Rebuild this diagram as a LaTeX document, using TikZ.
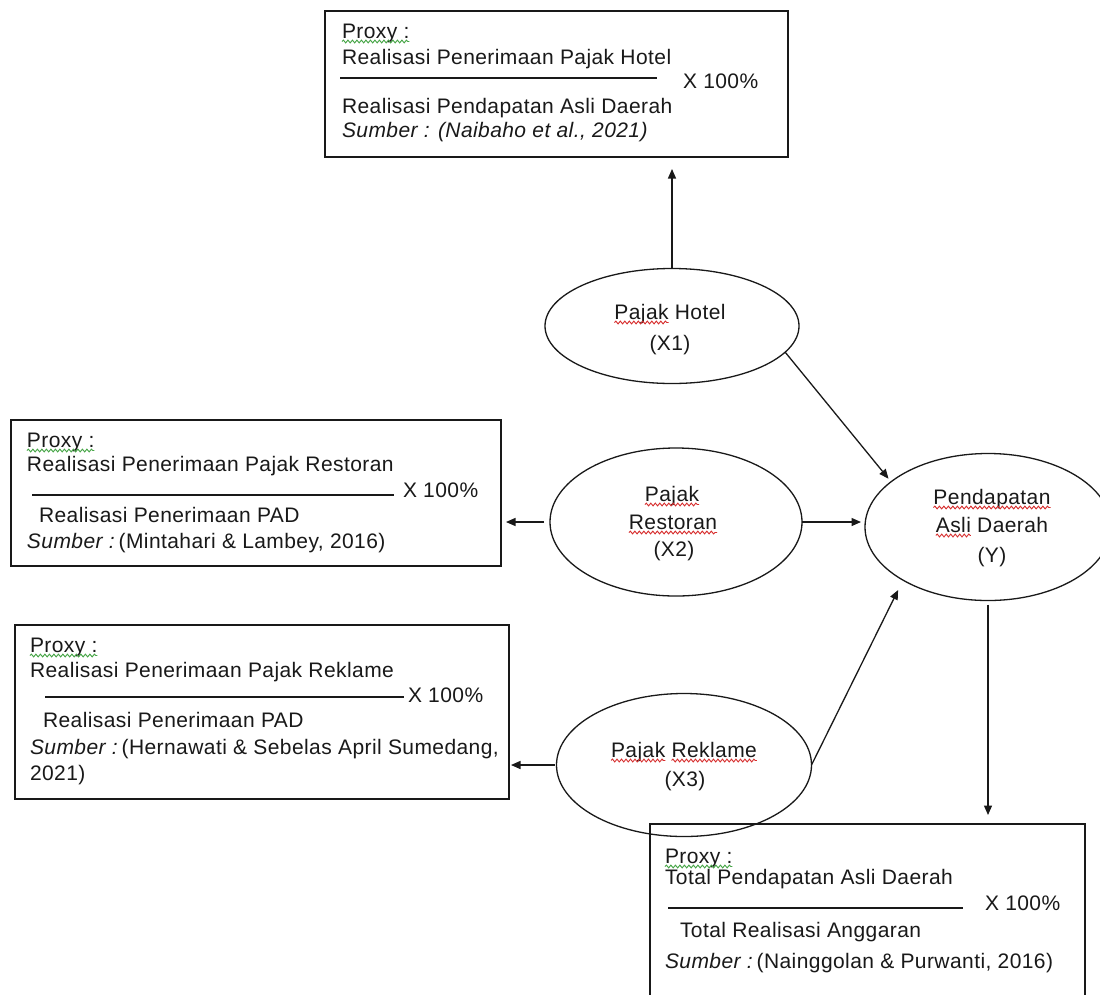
\documentclass[tikz,border=0pt]{standalone}
\usepackage{fontspec}
\setmainfont[LetterSpace=2]{Liberation Sans}
\usepackage{xcolor}
\usetikzlibrary{arrows.meta,shapes.geometric,decorations.pathmorphing}
\definecolor{sqred}{RGB}{215,45,45}
\definecolor{sqgreen}{RGB}{70,165,70}
\definecolor{ink}{RGB}{25,25,25}
\begin{document}
\begin{tikzpicture}[x=1pt,y=-1pt,
  font=\fontsize{21}{25}\selectfont,
  every node/.style={text=ink},
  box/.style={draw=ink, line width=1.4pt, rectangle, inner sep=0pt, outer sep=0pt},
  oval/.style={draw=ink, ellipse, line width=1.3pt, inner sep=0pt, outer sep=0pt},
  txt/.style={anchor=base west, inner sep=0pt, outer sep=0pt},
  ovtxt/.style={anchor=base, inner sep=0pt, outer sep=0pt},
  ghostw/.style={anchor=base west, inner sep=0pt, outer sep=0pt},
  ghoste/.style={anchor=base east, inner sep=0pt, outer sep=0pt},
  arr/.style={-{Triangle[length=9.5pt,width=8pt]}, line width=1.3pt, draw=ink},
  frac/.style={line width=1.2pt, draw=ink},
  sq/.style={decorate, decoration={snake, amplitude=1.4pt, segment length=4.5pt}, line width=0.9pt},
  sqr/.style={sq, draw=sqred},
  sqg/.style={sq, draw=sqgreen}]
\useasboundingbox (0,0) rectangle (1100,994);
\fill[white] (0,0) rectangle (1100,994);
\clip (0,0) rectangle (1100,994);

% top box (Pajak Hotel proxy)
\node[box, minimum width=463pt, minimum height=146pt] (topbox) at (556.5,84) {};
\node[txt] (t1) at (342,38) {Proxy :};
\node[txt] (t2) at (342,64) {Realisasi Penerimaan Pajak Hotel};
\draw[frac] (340,78) -- (657,78);
\node[txt] (t3) at (683,88) {X 100\%};
\node[txt] (t4) at (342,113) {Realisasi Pendapatan Asli Daerah};
\node[txt] (t5) at (342,137) {\textit{Sumber : (Naibaho et al., 2021)}};

% restoran box
\node[box, minimum width=490pt, minimum height=146pt] (rbox) at (256,493) {};
\node[txt] (r1) at (27,447) {Proxy :};
\node[txt] (r2) at (27,471) {Realisasi Penerimaan Pajak Restoran};
\draw[frac] (32,495) -- (394,495);
\node[txt] (r3) at (403,497) {X 100\%};
\node[txt] (r4) at (39,522) {Realisasi Penerimaan PAD};
\node[txt] (r5) at (27,548) {\textit{Sumber :}\,(Mintahari \& Lambey, 2016)};

% reklame box
\node[box, minimum width=494pt, minimum height=174pt] (kbox) at (262,712) {};
\node[txt] (k1) at (30,652) {Proxy :};
\node[txt] (k2) at (30,677) {Realisasi Penerimaan Pajak Reklame};
\draw[frac] (45,697) -- (404,697);
\node[txt] (k3) at (408,702) {X 100\%};
\node[txt] (k4) at (43,727) {Realisasi Penerimaan PAD};
\node[txt] (k5) at (30,754) {\textit{Sumber :}\,(Hernawati \& Sebelas April Sumedang,};
\node[txt] (k6) at (30,780) {2021)};

% bottom box (PAD proxy)
\node[box, minimum width=435pt, minimum height=190pt] (bbox) at (867.5,919) {};
\node[txt] (b1) at (665,863) {Proxy :};
\node[txt] (b2) at (665,884) {Total Pendapatan Asli Daerah};
\draw[frac] (668,908) -- (963,908);
\node[txt] (b3) at (985,910) {X 100\%};
\node[txt] (b4) at (680,937) {Total Realisasi Anggaran};
\node[txt] (b5) at (665,968) {\textit{Sumber :}\,(Nainggolan \& Purwanti, 2016)};

% green spell-check squiggles under "Proxy :"
\foreach \p in {t1,r1,k1,b1}
  \draw[sqg] ([yshift=-3.5pt]\p.base west) -- ([yshift=-3.5pt]\p.base east);

% ellipses
\node[oval, minimum width=254pt, minimum height=115pt] (hotel) at (672,326) {};
\node[oval, minimum width=252pt, minimum height=148pt] (resto) at (676,522) {};
\node[oval, minimum width=246pt, minimum height=147pt] (Y) at (988,527) {};
\node[oval, minimum width=255pt, minimum height=143pt] (rekl) at (684,765) {};

\node[ovtxt] (h1) at (670,319) {Pajak Hotel};
\node[ovtxt] (h2) at (670,350) {(X1)};
\node[ovtxt] (s1) at (672,501) {Pajak};
\node[ovtxt] (s2) at (673,529) {Restoran};
\node[ovtxt] (s3) at (674,556) {(X2)};
\node[ovtxt] (y1) at (992,504) {Pendapatan};
\node[ovtxt] (y2) at (992,532) {Asli Daerah};
\node[ovtxt] (y3) at (992,562) {(Y)};
\node[ovtxt] (x1) at (684,757) {Pajak Reklame};
\node[ovtxt] (x2) at (685,786) {(X3)};

% invisible word boxes used to size the red squiggles
\node[ghostw] (h1w) at (h1.base west) {\phantom{Pajak}};
\node[ghostw] (y2w) at (y2.base west) {\phantom{Asli}};
\node[ghostw] (x1w) at (x1.base west) {\phantom{Pajak}};
\node[ghoste] (x1e) at (x1.base east) {\phantom{Reklame}};
\foreach \p in {h1w,s1,s2,y1,y2w,x1w,x1e}
  \draw[sqr] ([yshift=-3.5pt]\p.base west) -- ([yshift=-3.5pt]\p.base east);

% connectors
\draw[arr, shorten >=12pt] (hotel.north) -- (hotel.north |- topbox.south);
\draw[arr, shorten >=4pt] (hotel.-13) -- (Y.155);
\draw[arr, shorten >=4pt] (resto.east) -- (resto.east -| Y.west);
\draw[arr, shorten <=6pt, shorten >=5pt] (resto.west) -- (resto.west -| rbox.east);
\draw[arr, shorten >=11pt] (rekl.east) -- (Y.212);
\draw[arr, shorten <=2pt, shorten >=2pt] (rekl.west) -- (rekl.west -| kbox.east);
\draw[arr, shorten <=4pt, shorten >=9pt] (Y.south) -- (Y.south |- bbox.north);
\end{tikzpicture}
\end{document}
